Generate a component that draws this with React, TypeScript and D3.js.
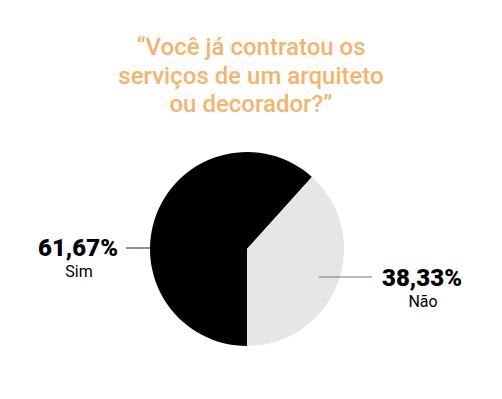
import React, { useEffect, useRef } from 'react';
import * as d3 from 'd3';

const categories = ['Sim', 'Não'];
const values = [61.67, 38.33];
const valueLabels = ['61,67%', '38,33%'];
const sliceColors = ['#000000', '#e6e6e6'];
const titleLines = ['“Você já contratou os', 'serviços de um arquiteto', 'ou decorador?”'];

const App = () => {
  const svgRef = useRef<SVGSVGElement>(null);

  useEffect(() => {
    const width = 502;
    const height = 399;
    const cx = 247;
    const cy = 249;
    const r = 97;

    const svgEl = d3.select(svgRef.current);
    svgEl.selectAll('*').remove();
    const svg = svgEl.attr('width', width).attr('height', height);

    // Titre
    svg.append('g')
      .selectAll('text')
      .data(titleLines)
      .enter().append('text')
      .attr('x', 251)
      .attr('y', (d, i) => 55 + i * 28.5)
      .attr('text-anchor', 'middle')
      .style('font-family', 'Roboto, sans-serif')
      .style('font-weight', 500)
      .style('font-size', '24px')
      .attr('fill', '#f6b36c')
      .text(d => d);

    const data = categories.map((c, i) => ({ name: c, value: values[i], label: valueLabels[i], color: sliceColors[i] }));

    const pie = d3.pie<any>()
      .value(d => d.value)
      .sort(null)
      .startAngle(Math.PI)
      .endAngle(3 * Math.PI);
    const arc = d3.arc<any>().innerRadius(0).outerRadius(r);

    const g = svg.append('g').attr('transform', `translate(${cx},${cy})`);
    g.selectAll('path')
      .data(pie(data))
      .enter().append('path')
      .attr('d', arc)
      .attr('fill', d => d.data.color);

    // Lignes et étiquettes
    const labelPos = [
      { x1: -121, x2: -97, y: -1, tx: 78 - cx, ty: 256 - cy },
      { x1: 72, x2: 125, y: 28, tx: 422 - cx, ty: 286 - cy },
    ];
    const lineColors = ['#222222', '#777777'];

    data.forEach((d, i) => {
      const p = labelPos[i];
      g.append('line')
        .attr('x1', p.x1).attr('x2', p.x2)
        .attr('y1', p.y).attr('y2', p.y)
        .attr('stroke', lineColors[i])
        .attr('stroke-width', 1);
      g.append('text')
        .attr('x', p.tx).attr('y', p.ty)
        .attr('text-anchor', 'middle')
        .style('font-family', 'Roboto, sans-serif')
        .style('font-weight', 900)
        .style('font-size', '24px')
        .attr('fill', '#000')
        .text(d.label);
      g.append('text')
        .attr('x', p.tx + 1).attr('y', p.ty + 21)
        .attr('text-anchor', 'middle')
        .style('font-family', 'Roboto, sans-serif')
        .style('font-size', '16px')
        .attr('fill', '#000')
        .text(d.name);
    });
  }, []);

  return (
    <svg ref={svgRef} style={{ position: 'absolute', left: 0, top: 0 }}></svg>
  );
};

export default App;
